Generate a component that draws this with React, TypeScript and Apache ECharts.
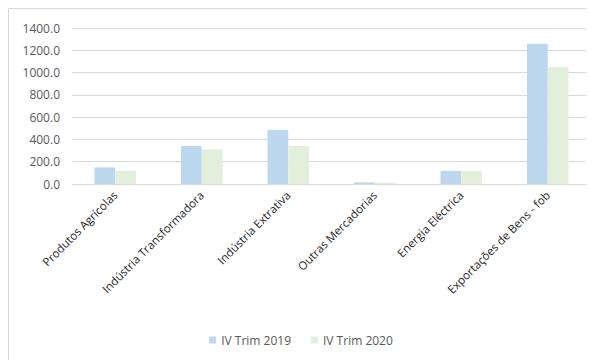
import React, { useEffect, useRef } from "react";
import * as echarts from "echarts";

const categories = [
  "Produtos Agrícolas",
  "Indústria Transformadora",
  "Indústria Extrativa",
  "Outras Mercadorias",
  "Energia Eléctrica",
  "Exportações de Bens - fob",
];
const trim2019 = [149.0, 341.0, 487.0, 15.0, 119.0, 1259.0];
const trim2020 = [118.0, 311.0, 341.0, 12.0, 117.0, 1050.0];
const seriesNames = ["IV Trim 2019", "IV Trim 2020"];

const FONT = "'Open Sans', 'Noto Sans', sans-serif";
const TEXT = "#595959";

export default function App() {
  const ref = useRef<HTMLDivElement>(null);
  useEffect(() => {
    if (!ref.current) return;
    const chart = echarts.init(ref.current, undefined, { renderer: "svg" });
    chart.setOption({
      animation: false,
      backgroundColor: "#ffffff",
      textStyle: { fontFamily: FONT },
      graphic: [
        {
          type: "rect",
          shape: { x: 0.5, y: 0.5, width: 620, height: 400 },
          style: { fill: "none", stroke: "#D9D9D9", lineWidth: 1 },
          silent: true,
        },
      ],
      grid: { left: 64, right: 3, top: 20, bottom: 176, containLabel: false },
      legend: {
        data: seriesNames,
        bottom: 9,
        left: "center",
        icon: "rect",
        itemWidth: 7,
        itemHeight: 7,
        itemGap: 20,
        textStyle: { color: TEXT, fontSize: 12, fontFamily: FONT },
      },
      xAxis: {
        type: "category",
        data: categories,
        axisLine: { lineStyle: { color: "#D9D9D9" } },
        axisTick: { show: false },
        axisLabel: {
          rotate: 45,
          interval: 0,
          color: "#262626",
          fontSize: 11.5,
          fontFamily: FONT,
          margin: 9,
        },
      },
      yAxis: {
        type: "value",
        min: 0,
        max: 1400,
        interval: 200,
        axisLine: { show: false },
        axisTick: { show: false },
        splitLine: { lineStyle: { color: "#D9D9D9" } },
        axisLabel: {
          color: TEXT,
          fontSize: 12,
          fontFamily: FONT,
          margin: 12,
          formatter: (v: number) => v.toFixed(1),
        },
      },
      series: [
        {
          name: seriesNames[0],
          type: "bar",
          data: trim2019,
          itemStyle: { color: "#BDD7EE" },
          barGap: "0%",
          barCategoryGap: "52%",
        },
        {
          name: seriesNames[1],
          type: "bar",
          data: trim2020,
          itemStyle: { color: "#E2EFDA" },
          barGap: "0%",
          barCategoryGap: "52%",
        },
      ],
    });
    return () => chart.dispose();
  }, []);
  return <div ref={ref} style={{ width: 586, height: 352 }} />;
}
